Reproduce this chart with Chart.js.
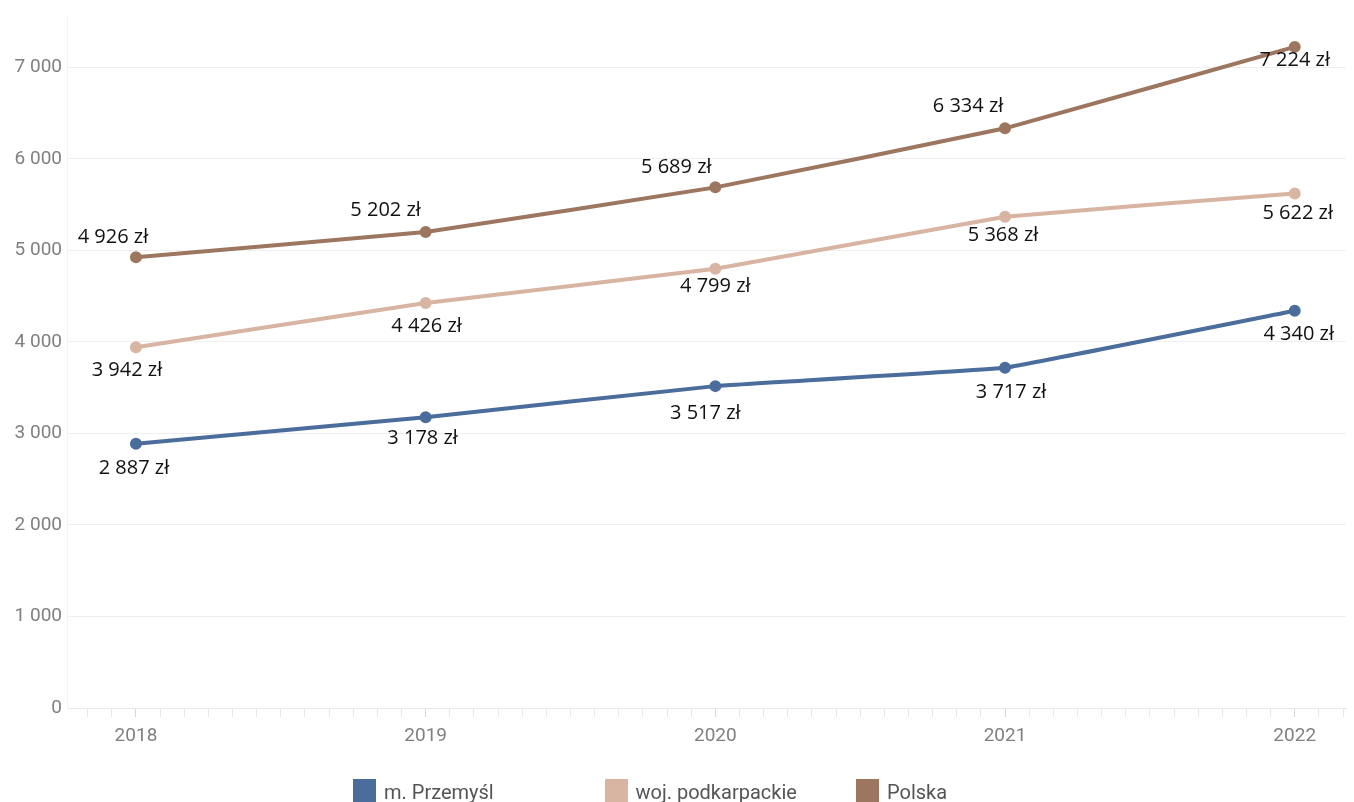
<!DOCTYPE html>
<html lang="pl">
<head>
<meta charset="utf-8">
<script src="https://cdn.jsdelivr.net/npm/chart.js@4/dist/chart.umd.min.js"></script>
<style>
  html, body { margin: 0; padding: 0; background: #fff; overflow: hidden; }
  #wrap { position: relative; width: 1354px; height: 802px; }
  #legenda { position: absolute; left: 353px; top: 779px; display: flex; font-family: Roboto, sans-serif; font-size: 20px; color: #555; }
  .item { width: 251.5px; display: flex; align-items: flex-start; white-space: nowrap; }
  .kolor { width: 23px; height: 23px; margin-right: 8px; flex: none; }
  .item span.tekst { line-height: 23px; position: relative; top: 2px; }
</style>
</head>
<body>
<div id="wrap">
  <canvas id="wykres" width="1354" height="802"></canvas>
  <div id="legenda"></div>
</div>
<script>
  const lata = [2018, 2019, 2020, 2021, 2022];
  const przemysl = [2887, 3178, 3517, 3717, 4340];
  const podkarpackie = [3942, 4426, 4799, 5368, 5622];
  const polska = [4926, 5202, 5689, 6334, 7224];

  const nazwy = ["m. Przemyśl", "woj. podkarpackie", "Polska"];
  const kolory = ["#4a6d9b", "#d8b4a3", "#9d7660"];

  // przesuniecia etykiet wzgledem punktow (x, y) - tylko wyglad
  const przesuniecia = [
    [[-2, 25], [-3, 21], [-10, 27], [6, 24], [4, 23]],
    [[-9, 23], [1, 23], [0, 17], [-2, 19], [3, 20]],
    [[-23, -20], [-40, -22], [-39, -20], [-37, -22], [0, 13]],
  ];

  function tysiace(n) {
    return String(Math.round(n)).replace(/\B(?=(\d{3})+(?!\d))/g, " ");
  }

  const serie = [przemysl, podkarpackie, polska];

  const etykiety = {
    id: "etykiety",
    afterDatasetsDraw(chart) {
      const c = chart.ctx;
      c.save();
      c.font = '20px "Open Sans"';
      c.fillStyle = "#111";
      c.textAlign = "center";
      c.textBaseline = "middle";
      chart.data.datasets.forEach((ds, i) => {
        const meta = chart.getDatasetMeta(i);
        meta.data.forEach((pt, j) => {
          const [dx, dy] = przesuniecia[i][j];
          c.fillText(tysiace(serie[i][j]) + " zł", pt.x + dx, pt.y + dy);
        });
      });
      c.restore();
    },
  };

  const ctx = document.getElementById("wykres");

  new Chart(ctx, {
    type: "line",
    data: {
      datasets: serie.map((s, i) => ({
        label: nazwy[i],
        data: lata.map((r, j) => ({ x: r, y: s[j] })),
        borderColor: kolory[i],
        backgroundColor: kolory[i],
        borderWidth: 4,
        pointRadius: 4,
        pointHoverRadius: 4,
        tension: 0.05,
      })),
    },
    options: {
      responsive: false,
      animation: false,
      layout: { padding: 0 },
      plugins: {
        legend: { display: false },
        tooltip: { enabled: false },
      },
      scales: {
        x: {
          type: "linear",
          min: 2017.762,
          max: 2022.177,
          afterFit: (s) => { s.height = 94; },
          afterBuildTicks: (s) => {
            const t = [];
            for (let m = Math.ceil(s.min * 12); m <= s.max * 12; m++) {
              t.push({ value: m / 12 });
            }
            s.ticks = t;
          },
          ticks: {
            autoSkip: false,
            maxRotation: 0,
            padding: 8,
            color: "#808080",
            font: { family: "Roboto", size: 19 },
            callback: (v) => {
              const r = Math.round(v);
              return Math.abs(v - r) < 1e-6 ? String(r) : "";
            },
          },
          grid: {
            drawOnChartArea: false,
            tickLength: 9,
            tickColor: (c) => {
              const v = c.tick ? c.tick.value : 0;
              return Math.abs(v - Math.round(v)) < 1e-6 ? "#d6d6d6" : "#e8e8e8";
            },
          },
          border: { color: "#e8e8e8" },
        },
        y: {
          min: 0,
          max: 7557,
          afterFit: (s) => { s.width = 67; },
          afterBuildTicks: (s) => {
            s.ticks = [0, 1000, 2000, 3000, 4000, 5000, 6000, 7000].map((v) => ({ value: v }));
          },
          ticks: {
            padding: 5,
            color: "#808080",
            font: { family: "Roboto", size: 19 },
            callback: (v) => tysiace(v),
          },
          grid: {
            color: "#efefef",
            drawTicks: false,
          },
          border: { color: "#f3f3f3" },
        },
      },
    },
    plugins: [etykiety],
  });

  const leg = document.getElementById("legenda");
  nazwy.forEach((n, i) => {
    const it = document.createElement("div");
    it.className = "item";
    const k = document.createElement("div");
    k.className = "kolor";
    k.style.background = kolory[i];
    const t = document.createElement("span");
    t.className = "tekst";
    t.textContent = n;
    it.appendChild(k);
    it.appendChild(t);
    leg.appendChild(it);
  });
</script>
</body>
</html>
